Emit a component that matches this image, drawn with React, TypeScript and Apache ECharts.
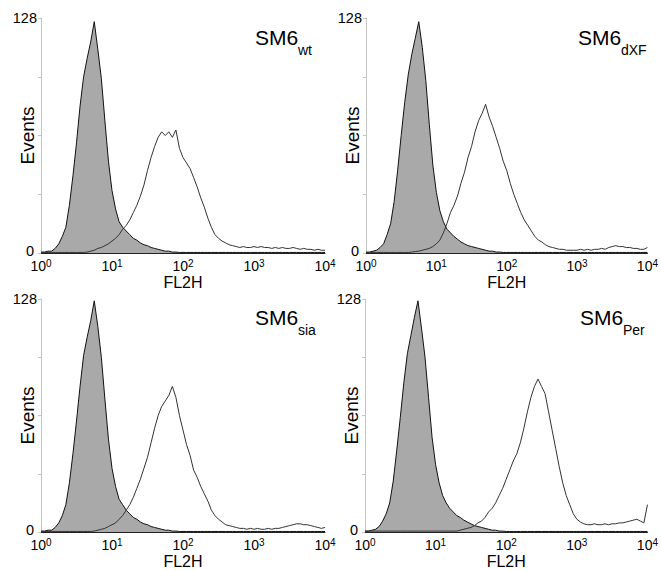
import React, { useEffect, useRef } from "react";
import * as echarts from "echarts";

// bins: 0.05 decade steps from 10^0 to 10^4 (81 channels)
const BIN_STEP = 0.05;

const panelNames = ["wt", "dXF", "sia", "Per"];
const yTickLabels = ["0", "128"];
const xDecades = ["0", "1", "2", "3", "4"];

const ctrlWt = [0.5,0.5,1,1,2.5,5,9,14,26,42,60,80,96,106,115,126,111,95,72,50,34,24,17,14,12,10,8,7,5.5,4.5,4,3,2.5,2,1.5,1,1,0.5,0.5,0.3,0.3,0.3,0.3,0.3,0.3,0.3,0.3,0.3,0.3,0.3,0.3,0.3,0.3,0.3,0.3,0.3,0.3,0.3,0.3,0.3,0.3,0.3,0.3,0.3,0.3,0.3,0.3,0.3,0.3,0.3,0.3,0.3,0.3,0.3,0.3,0.3,0.3,0.3,0.3,0.3,0.3];
const testWt = [0.3,0.3,0.3,0.3,0.3,0.3,0.3,0.3,0.3,0.3,0.3,0.3,0.3,0.5,1,1.5,2.5,3,4,5,6.5,8,10,13,15,18,22,26,31,37,45,52,58,63,66,64,66,63,67,57,52,49,46,41,36,30,25,19,14,10,8,6.5,5.5,4.5,4,3.5,3,3.5,3,3,3.5,3,3.5,3,3,2.5,3,2.5,3,2.5,2.5,3,2.5,2,2.5,2,2,1.5,2,1.5,1.5];

const ctrlDxf = [0.5,0.5,1,1.5,3,5,10,16,28,45,64,82,97,108,117,126,112,94,70,48,33,23,17,13,11,9,7.5,6,5,4,3.5,3,2.5,2,1.5,1,1,0.5,0.5,0.3,0.3,0.3,0.3,0.3,0.3,0.3,0.3,0.3,0.3,0.3,0.3,0.3,0.3,0.3,0.3,0.3,0.3,0.3,0.3,0.3,0.3,0.3,0.3,0.3,0.3,0.3,0.3,0.3,0.3,0.3,0.3,0.3,0.3,0.3,0.3,0.3,0.3,0.3,0.3,0.3,0.3];
const testDxf = [0.3,0.3,0.3,0.3,0.3,0.3,0.3,0.3,0.3,0.3,0.3,0.3,0.3,0.5,0.8,1,1.5,2,2.5,3.5,5,7,11,16,22,26,31,38,44,52,58,66,72,76,81,74,69,63,57,50,45,38,32,27,22,18,15,12,9,7,6,4.5,3.5,3,2.5,2,2,1.5,1.5,1.5,1.5,2,1.5,2,1.5,2,2,2.5,2,3,3.5,4,3.5,3.5,3,3,2.5,2.5,2,2,3];

const ctrlSia = [0.5,0.5,1,1,2.5,5,9,15,27,43,61,80,97,107,116,127,113,96,73,51,35,25,18,15,12,10,8,7,5.5,4.5,4,3,2.5,2,1.5,1,1,0.5,0.5,0.3,0.3,0.3,0.3,0.3,0.3,0.3,0.3,0.3,0.3,0.3,0.3,0.3,0.3,0.3,0.3,0.3,0.3,0.3,0.3,0.3,0.3,0.3,0.3,0.3,0.3,0.3,0.3,0.3,0.3,0.3,0.3,0.3,0.3,0.3,0.3,0.3,0.3,0.3,0.3,0.3,0.3];
const testSia = [0.3,0.3,0.3,0.3,0.3,0.3,0.3,0.3,0.3,0.3,0.3,0.3,0.3,0.3,0.3,0.5,1,1.5,2,3,4,5,7,9,12,15,19,24,29,35,41,49,57,64,69,72,75,80,74,64,56,48,42,34,30,25,21,17,12,9,7,5.5,4,3.5,3,2.5,2,2,1.5,2,1.5,2,1.5,1.5,2,1.5,2,2,2.5,3,3.5,4,4.5,4.5,4,4,3.5,3,2.5,2,2.5];

const ctrlPer = [0.5,0.5,1,1.5,3,6,10,16,28,45,63,82,98,108,118,127,112,96,74,52,37,27,20,16,13,11,9,8,6.5,5.5,4.5,3.5,3,2.5,2,1.5,1,1,0.5,0.5,0.3,0.3,0.3,0.3,0.3,0.3,0.3,0.3,0.3,0.3,0.3,0.3,0.3,0.3,0.3,0.3,0.3,0.3,0.3,0.3,0.3,0.3,0.3,0.3,0.3,0.3,0.3,0.3,0.3,0.3,0.3,0.3,0.3,0.3,0.3,0.3,0.3,0.3,0.3,0.3,0.3];
const testPer = [0.5,0.5,0.5,0.5,0.5,0.5,0.5,0.5,0.5,0.5,0.5,0.5,0.5,0.5,0.5,0.5,0.5,0.5,0.5,0.5,0.5,0.5,0.5,0.5,0.5,0.5,0.5,1,1.5,2,2.5,3.5,5,6,8,11,13,16,20,24,29,34,39,43,49,57,66,74,80,84,80,76,66,56,46,36,27,20,15,10,7,5.5,4.5,4,4,4.5,4,4,4.5,4,4.5,4.5,5,5,5.5,6,6.5,7,6,5,15];

const controls = [ctrlWt, ctrlDxf, ctrlSia, ctrlPer];
const tests = [testWt, testDxf, testSia, testPer];

const grids = [
  { left: 41, top: 18, width: 284, height: 235 },
  { left: 366, top: 18, width: 282, height: 235 },
  { left: 41, top: 299, width: 284, height: 234 },
  { left: 365, top: 299, width: 283, height: 234 },
];

const FONT = "'Liberation Sans', Arial, sans-serif";

function toPairs(vals: number[]) {
  return vals.map((v, i) => [Math.pow(10, i * BIN_STEP), v]);
}

export default function App() {
  const ref = useRef<HTMLDivElement>(null);
  useEffect(() => {
    if (!ref.current) return;
    const chart = echarts.init(ref.current, null, { renderer: "svg" });
    const xAxis = grids.map((_, i) => ({
      type: "log",
      logBase: 10,
      gridIndex: i,
      min: 1,
      max: 10000,
      name: "FL2H",
      nameLocation: "middle",
      nameGap: 21,
      nameMoveOverlap: false,
      nameTextStyle: { fontFamily: FONT, fontSize: 16, color: "#000" },
      axisLine: { show: true, lineStyle: { color: "#222", width: 1 } },
      axisTick: { show: false },
      splitLine: { show: false },
      axisLabel: {
        margin: 5,
        formatter: (v: number) => {
          const e = Math.round(Math.log10(v));
          return `{b|10}{s|${xDecades[e] ?? e}}`;
        },
        rich: {
          b: { fontFamily: FONT, fontSize: 14, color: "#000", lineHeight: 15, verticalAlign: "bottom" },
          s: { fontFamily: FONT, fontSize: 10, color: "#000", lineHeight: 9, verticalAlign: "top" },
        },
      },
    }));
    const yAxis = grids.map((_, i) => ({
      type: "value",
      gridIndex: i,
      min: 0,
      max: 128,
      interval: 32,
      name: "Events",
      nameLocation: "middle",
      nameGap: 4,
      nameMoveOverlap: false,
      nameRotate: 90,
      nameTextStyle: { fontFamily: FONT, fontSize: 19, color: "#000" },
      axisLine: { show: true, lineStyle: { color: "#c4c4c4", width: 1 } },
      axisTick: { show: true, length: 3, lineStyle: { color: "#c4c4c4" } },
      splitLine: { show: false },
      axisLabel: {
        margin: 4,
        fontFamily: FONT,
        fontSize: 14.5,
        color: "#000",
        formatter: (v: number) => (v === 0 ? `{z|${yTickLabels[0]}}` : v === 128 ? yTickLabels[1] : ""),
        rich: {
          z: { fontFamily: FONT, fontSize: 14.5, color: "#000", lineHeight: 14, padding: [0, 3, 4, 0] },
        },
      },
    }));
    const series: any[] = [];
    grids.forEach((_, i) => {
      series.push({
        type: "line",
        xAxisIndex: i,
        yAxisIndex: i,
        data: toPairs(controls[i]),
        showSymbol: false,
        symbol: "none",
        lineStyle: { color: "#111", width: 1 },
        areaStyle: { color: "#a9a9a9", opacity: 1 },
        z: 2,
      });
      series.push({
        type: "line",
        xAxisIndex: i,
        yAxisIndex: i,
        data: toPairs(tests[i]),
        showSymbol: false,
        symbol: "none",
        lineStyle: { color: "#333", width: 1 },
        z: 3,
      });
    });
    const titlePos = [
      { x: 255, y: 37 },
      { x: 578, y: 37 },
      { x: 255, y: 317 },
      { x: 580, y: 317 },
    ];
    const graphic: any[] = [];
    titlePos.forEach((p, i) => {
      graphic.push({
        type: "text",
        x: p.x,
        y: p.y,
        style: { text: "SM6", font: `21px ${FONT}`, fill: "#000", verticalAlign: "middle", align: "left" },
      });
      graphic.push({
        type: "text",
        x: p.x + 43,
        y: p.y + 13,
        style: { text: panelNames[i], font: `14px ${FONT}`, fill: "#000", verticalAlign: "middle", align: "left" },
      });
    });
    chart.setOption({
      animation: false,
      backgroundColor: "#fff",
      grid: grids.map((g) => ({ ...g, containLabel: false })),
      xAxis,
      yAxis,
      series,
      graphic,
    });
    return () => chart.dispose();
  }, []);
  return (
    <div
      ref={ref}
      style={{ position: "fixed", left: 0, top: 0, width: 661, height: 570, background: "#fff" }}
    />
  );
}
